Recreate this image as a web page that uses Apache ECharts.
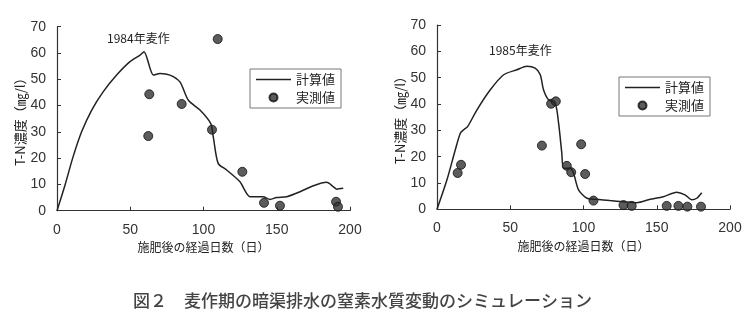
<!DOCTYPE html>
<html><head><meta charset="utf-8">
<script src="https://cdn.jsdelivr.net/npm/echarts@6/dist/echarts.min.js"></script>
<style>html,body{margin:0;padding:0;background:#fff}#c{width:749px;height:324px}</style>
</head><body><div id="c"></div>
<script>
// 1984 wheat crop
const calc1984 = [[0,0],[5.5,9.8],[10.7,20],[16.8,30],[23.7,38.3],[31.6,45.3],[40.7,51.6],[49.8,56.7],[56.7,59.2],[59.4,60.5],[65.8,51.6],[70.4,52.2],[77.1,51.6],[83.9,49],[89.7,42],[97.6,38.3],[104.9,33.2],[106.7,28],[110,18],[115.8,15.5],[124.9,11],[131.8,5.3],[140.7,5.3],[145.4,4.3],[149.9,5],[156.8,5.3],[165.9,7.2],[175,9.5],[184.1,10.8],[188.7,9.1],[191,8.2],[195.4,8.5]];
const obs1984 = [[63,44.3],[62.3,28.4],[85.1,40.6],[109.7,65.3],[105.8,30.8],[126.5,14.8],[141.3,3.0],[152.2,1.9],[190.5,3.4],[191.8,1.5]];
// 1985 wheat crop
const calc1985 = [[0,0],[6.8,11.2],[12.5,22.6],[15.9,28.9],[18.2,30.2],[20.9,31.4],[27.3,37.8],[36.4,45.4],[45.5,51.1],[54.5,53],[61.4,54.3],[67,53.6],[70.5,51.1],[72.7,45.4],[76.1,41.6],[80.7,40.3],[83,32.7],[85.2,21.3],[86.4,15.6],[90.9,15.6],[93.2,13.7],[96.6,7.4],[102.3,4.2],[109,3.8],[118,3.3],[127.3,2.9],[136.4,2.5],[145.5,3.8],[154.5,4.8],[163.6,6.5],[169.3,5.5],[173.9,3.6],[177.3,4.2],[180.7,6.3]];
const obs1985 = [[14.1,13.8],[16.4,16.9],[71.6,24.2],[77.9,40.1],[81.1,41],[88.6,16.5],[91.6,14.1],[98.4,24.7],[101.1,13.4],[106.8,3.3],[127.3,1.6],[132.9,1.3],[156.8,1.3],[164.8,1.3],[170.9,1],[180.2,1]];
const seriesNames = ['計算値','実測値'];
const panelTitles = ['1984年麦作','1985年麦作'];
const xName = '施肥後の経過日数（日）';
const yName = 'T-N濃度（㎎/l）';
const caption = '図２　麦作期の暗渠排水の窒素水質変動のシミュレーション';

const numFont = "'Liberation Sans','Arial',sans-serif";
const jpFont = "'Noto Sans CJK JP',sans-serif";
const axisCol = '#333';

function xAx(i){return {gridIndex:i,type:'value',min:0,max:200,interval:50,
  name:xName,nameLocation:'middle',nameGap:27,nameTextStyle:{fontFamily:jpFont,fontSize:12,color:'#222'},
  axisLine:{lineStyle:{color:axisCol,width:1.2}},axisTick:{inside:true,length:4,lineStyle:{color:axisCol}},
  splitLine:{show:false},axisLabel:{margin:12,fontFamily:numFont,fontSize:14,color:'#333'}};}
function yAx(i){return {gridIndex:i,type:'value',min:0,max:70,interval:10,
  name:yName,nameLocation:'middle',nameGap:28,nameRotate:90,nameTextStyle:{fontFamily:jpFont,fontSize:13,color:'#222'},
  axisLine:{show:true,lineStyle:{color:axisCol,width:1.2}},axisTick:{show:true,inside:true,length:4,lineStyle:{color:axisCol}},
  splitLine:{show:false},axisLabel:{margin:11,fontFamily:numFont,fontSize:14,color:'#333'}};}
function lineS(i,d){return {name:seriesNames[0],type:'line',xAxisIndex:i,yAxisIndex:i,data:d,showSymbol:false,symbol:'none',smooth:0.25,
  lineStyle:{color:'#222',width:1.5},itemStyle:{color:'#222'}};}
function scS(i,d){return {name:seriesNames[1],type:'scatter',xAxisIndex:i,yAxisIndex:i,data:d,symbolSize:9,
  itemStyle:{color:'#333',borderColor:'#111',borderWidth:1}};}
function leg(left,top){return {left:left,top:top,orient:'vertical',data:[{name:seriesNames[0],icon:'path://M0,0L1,0L1,0.045L0,0.045Z'},{name:seriesNames[1],icon:'circle'}],
  itemWidth:35,itemHeight:8,itemGap:5,padding:[4,6,4,6],borderColor:'#777',borderWidth:1,
  textStyle:{fontFamily:jpFont,fontSize:13,color:'#222',padding:[0,0,0,0]},selectedMode:false};}

const chart = echarts.init(document.getElementById('c'),null,{renderer:'canvas'});
chart.setOption({
  animation:false,
  backgroundColor:'#fff',
  grid:[{left:57,right:399,top:26.7,bottom:113.3},{left:437,right:19,top:25,bottom:114.7}],
  xAxis:[xAx(0),xAx(1)],
  yAxis:[yAx(0),yAx(1)],
  legend:[leg(250,69),leg(619,77)],
  title:[
    {text:panelTitles[0],left:107,top:32,textStyle:{fontFamily:jpFont,fontSize:12,fontWeight:'normal',color:'#222'},padding:0},
    {text:panelTitles[1],left:489,top:44,textStyle:{fontFamily:jpFont,fontSize:12,fontWeight:'normal',color:'#222'},padding:0},
    {text:caption,left:133,top:292,textStyle:{fontFamily:jpFont,fontSize:17,fontWeight:500,color:'#444'},padding:0}
  ],
  series:[lineS(0,calc1984),scS(0,obs1984),lineS(1,calc1985),scS(1,obs1985)]
});
</script></body></html>
